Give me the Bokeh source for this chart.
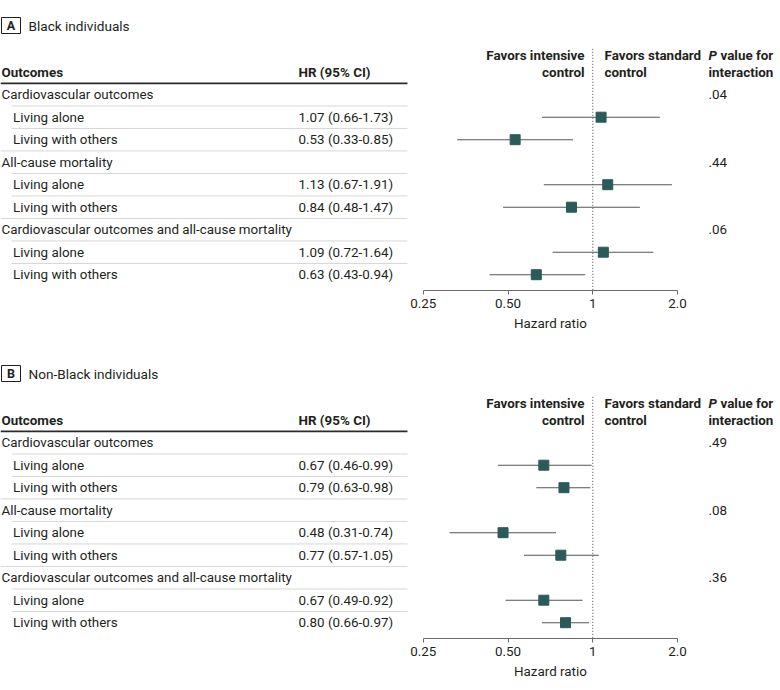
from bokeh.plotting import figure
from bokeh.models import Range1d, LogScale, LogAxis, FixedTicker
from bokeh.layouts import column
from bokeh.embed import file_html
from bokeh.resources import INLINE
from bokeh.core.properties import value

# ---------------- data ----------------
groups = ["Cardiovascular outcomes", "All-cause mortality",
          "Cardiovascular outcomes and all-cause mortality"]
subgroups = ["Living alone", "Living with others"]

black_hr = [1.07, 0.53, 1.13, 0.84, 1.09, 0.63]
black_lo = [0.66, 0.33, 0.67, 0.48, 0.72, 0.43]
black_hi = [1.73, 0.85, 1.91, 1.47, 1.64, 0.94]
black_p = [".04", ".44", ".06"]

nonblack_hr = [0.67, 0.79, 0.48, 0.77, 0.67, 0.80]
nonblack_lo = [0.46, 0.63, 0.31, 0.57, 0.49, 0.66]
nonblack_hi = [0.99, 0.98, 0.74, 1.05, 0.92, 0.97]
nonblack_p = [".49", ".08", ".36"]

ticks = [0.25, 0.5, 1, 2]
tick_labels = ["0.25", "0.50", "1", "2.0"]
x_title = "Hazard ratio"

# ---------------- layout / style ----------------
FONT = "Roboto"
FS = "13.4px"
TXT = "#231f20"
X0, X1 = 0, 780          # page x covered by the frame
ONE_PX = 592.3           # page x of HR = 1
OCT_PX = 84.77           # pixels per doubling of HR
ROW0_PX = 94.2           # y of first row, from panel top
ROW_H = 22.5
FRAME_H = 290
TABLE_R = 407
HR_X = 298
P_X = 708


def make_panel(letter, title, hr, lo, hi, pvals, border_bottom):
    r_top = (0 - ROW0_PX) / ROW_H
    r_bot = r_top + FRAME_H / ROW_H
    hr_start = 2 ** ((X0 - ONE_PX) / OCT_PX)
    hr_end = 2 ** ((X1 - ONE_PX) / OCT_PX)

    p = figure(frame_width=X1 - X0, frame_height=FRAME_H,
               x_range=Range1d(X0, X1), y_range=Range1d(r_bot, r_top),
               output_backend="svg", toolbar_location=None,
               x_axis_location=None, y_axis_location=None,
               min_border_left=0, min_border_right=0, min_border_top=0,
               min_border_bottom=border_bottom)
    p.outline_line_color = None
    p.grid.visible = False
    p.background_fill_color = "white"
    p.border_fill_color = "white"
    p.extra_x_ranges = {"hr": Range1d(hr_start, hr_end)}
    p.extra_x_scales = {"hr": LogScale()}

    def txt(x, y, t, bold=False, italic=False, align="left", size=FS, color=TXT):
        style = "bold italic" if (bold and italic) else ("bold" if bold else ("italic" if italic else "normal"))
        p.text(x=x, y=y, text=t, text_font=value(FONT), text_font_size=size,
               text_font_style=style, text_align=align, text_baseline="middle",
               text_color=color)

    # title
    ty = (25 - ROW0_PX) / ROW_H
    p.rect(x=[10.5], y=[ty], width=19, height=16, width_units="screen",
           height_units="screen", fill_color=None, line_color=TXT, line_width=1)
    txt([10.5], [ty], [letter], bold=True, align="center", size="12.5px")
    txt([28], [ty], [title], size="13.6px")

    # header
    h1 = (55 - ROW0_PX) / ROW_H
    h2 = (72 - ROW0_PX) / ROW_H
    txt([1], [h2], ["Outcomes"], bold=True)
    txt([HR_X], [h2], ["HR (95% CI)"], bold=True)
    txt([584, 584], [h1, h2], ["Favors intensive", "control"], bold=True, align="right")
    txt([604, 604], [h1, h2], ["Favors standard", "control"], bold=True)
    txt([P_X], [h1], ["P"], bold=True, italic=True)
    txt([P_X + 12], [h1], ["value for"], bold=True)
    txt([P_X], [h2], ["interaction"], bold=True)
    p.segment(x0=[0], y0=[-0.5], x1=[TABLE_R], y1=[-0.5], line_color="#2b2b2b", line_width=1.8)

    # rows
    labels, ly, lx = [], [], []
    sub_y = []
    for g, name in enumerate(groups):
        r = g * 3
        labels.append(name); ly.append(r); lx.append(1)
        for s, sub in enumerate(subgroups):
            labels.append(sub); ly.append(r + 1 + s); lx.append(12.5)
            sub_y.append(r + 1 + s)
    txt(lx, ly, labels)

    # separators
    sep_y = [r + 0.5 for r in range(len(labels) - 1)]
    sep_x0 = [0 if (r % 3 == 2) else 11 for r in range(len(labels) - 1)]
    p.segment(x0=sep_x0, y0=sep_y, x1=[TABLE_R] * len(sep_y), y1=sep_y,
              line_color="#d6d6d6", line_width=1)

    hr_text = [f"{h:.2f} ({a:.2f}-{b:.2f})" for h, a, b in zip(hr, lo, hi)]
    txt([HR_X] * len(sub_y), sub_y, hr_text)
    txt([P_X] * len(pvals), [g * 3 for g in range(len(pvals))], pvals)

    # reference line at HR = 1
    p.segment(x0=[1], y0=[(48.3 - ROW0_PX) / ROW_H], x1=[1], y1=[r_bot],
              x_range_name="hr", line_color="#444444", line_width=1, line_dash="1 2")

    # CIs and point estimates
    p.segment(x0=lo, y0=sub_y, x1=hi, y1=sub_y, x_range_name="hr",
              line_color="#555555", line_width=1.1)
    p.scatter(x=hr, y=sub_y, marker="square", size=10, x_range_name="hr",
              fill_color="#2b5a5a", line_color="#2b5a5a")

    ax = LogAxis(x_range_name="hr", ticker=FixedTicker(ticks=ticks, minor_ticks=[]),
                 bounds=(ticks[0], ticks[-1]))
    overrides = {}
    for t, l in zip(ticks, tick_labels):
        overrides[float(t)] = l
        overrides[str(t)] = l
    ax.major_label_overrides = overrides
    ax.major_label_text_font = FONT
    ax.major_label_text_font_size = FS
    ax.major_label_text_color = TXT
    ax.major_label_standoff = 4
    ax.major_tick_in = 0
    ax.major_tick_out = 4
    ax.minor_tick_line_color = None
    ax.axis_line_color = "#6a6a6a"
    ax.major_tick_line_color = "#6a6a6a"
    p.add_layout(ax, "below")

    # axis title centred under the drawn axis (geometric centre of the log bounds)
    mid = (ticks[0] * ticks[-1]) ** 0.5
    ax2 = LogAxis(x_range_name="hr", ticker=FixedTicker(ticks=[mid], minor_ticks=[]))
    ax2.major_label_overrides = {mid: x_title, str(mid): x_title}
    ax2.major_label_text_font = FONT
    ax2.major_label_text_font_size = FS
    ax2.major_label_text_color = TXT
    ax2.major_label_standoff = 5
    ax2.major_tick_in = 0
    ax2.major_tick_out = 0
    ax2.axis_line_color = None
    ax2.major_tick_line_color = None
    ax2.minor_tick_line_color = None
    p.add_layout(ax2, "below")
    return p


pA = make_panel("A", "Black individuals", black_hr, black_lo, black_hi, black_p, 58)
pB = make_panel("B", "Non-Black individuals", nonblack_hr, nonblack_lo, nonblack_hi, nonblack_p, 48)

layout = column(pA, pB)
open("out.html", "w").write(file_html(layout, INLINE))
